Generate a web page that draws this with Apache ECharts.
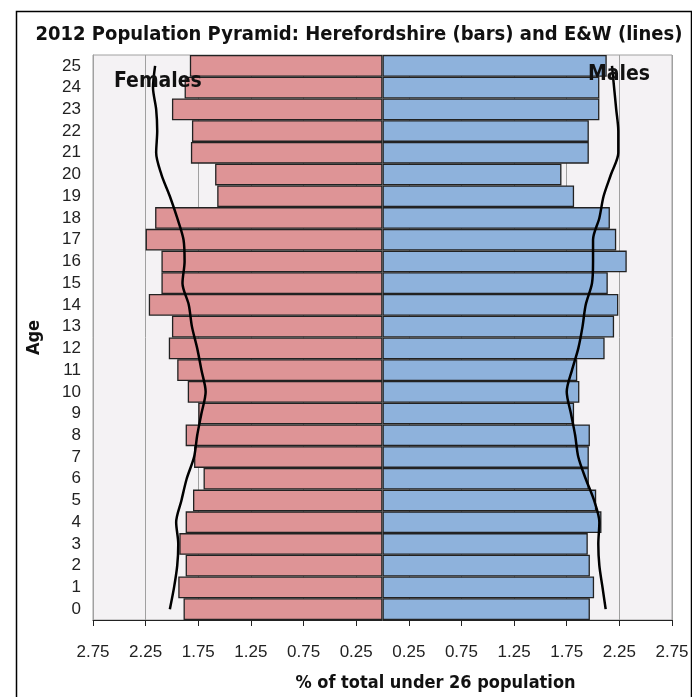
<!DOCTYPE html>
<html><head><meta charset="utf-8">
<script src="https://cdn.jsdelivr.net/npm/echarts@6/dist/echarts.min.js"></script>
<style>html,body{margin:0;padding:0;background:#fff}#c{width:692px;height:697px}</style>
</head><body><div id="c"></div>
<script>
const ages = ['0','1','2','3','4','5','6','7','8','9','10','11','12','13','14','15','16','17','18','19','20','21','22','23','24','25'];
// Herefordshire bars (% of total under 26 population)
const femalesHfd = [1.89,1.94,1.87,1.93,1.87,1.80,1.70,1.79,1.87,1.75,1.85,1.95,2.03,2.00,2.22,2.10,2.10,2.25,2.16,1.57,1.59,1.82,1.81,2.00,1.88,1.83];
const malesHfd   = [1.97,2.01,1.97,1.95,2.08,2.03,1.96,1.96,1.97,1.82,1.87,1.85,2.11,2.20,2.24,2.14,2.32,2.22,2.16,1.82,1.70,1.96,1.96,2.06,2.06,2.13];
// England & Wales lines
const femalesEW = [2.02,1.98,1.95,1.94,1.96,1.91,1.86,1.79,1.76,1.72,1.68,1.72,1.76,1.81,1.84,1.90,1.88,1.89,1.95,2.02,2.10,2.15,2.14,2.15,2.18,2.16];
const malesEW   = [2.12,2.09,2.06,2.05,2.06,2.01,1.93,1.86,1.83,1.79,1.75,1.80,1.86,1.90,1.93,1.99,2.00,2.00,2.06,2.10,2.17,2.24,2.24,2.22,2.20,2.18];

const chart = echarts.init(document.getElementById('c'), null, {renderer:'canvas'});
const FONT = "'Liberation Sans', Arial, sans-serif";
const NARROW = "'Liberation Sans Narrow', 'DejaVu Sans Condensed', Arial, sans-serif";
chart.setOption({
  animation:false,
  backgroundColor:'#fff',
  title:{text:'2012 Population Pyramid: Herefordshire (bars) and E&W (lines)', left:354, textAlign:'center', top:20,
    textStyle:{fontFamily:NARROW, fontWeight:'bold', fontSize:20, color:'#111'}},
  grid:{left:93, right:20, top:55, bottom:74, show:true, backgroundColor:'#f4f2f4', borderColor:'#a0a0a0', borderWidth:1},
  xAxis:{type:'value', min:-2.75, max:2.75, interval:0.5,
    name:'% of total under 26 population', nameLocation:'middle', nameGap:54,
    nameTextStyle:{fontFamily:NARROW, fontWeight:'bold', fontSize:18, color:'#111', padding:[0,0,0,106]},
    axisLine:{show:true, onZero:false, lineStyle:{color:'#222', width:1}},
    axisTick:{show:true, length:6, lineStyle:{color:'#222'}},
    axisLabel:{margin:24, fontFamily:FONT, fontSize:17, color:'#222', formatter:v=>Math.abs(v).toFixed(2)},
    splitLine:{show:true, lineStyle:{color:'#a0a0a0', width:1}}},
  yAxis:{type:'category', data:ages, name:'Age', nameLocation:'middle', nameGap:50, nameRotate:90,
    nameTextStyle:{fontFamily:NARROW, fontWeight:'bold', fontSize:18, color:'#111'},
    axisLine:{show:true, onZero:false, lineStyle:{color:'#a0a0a0'}},
    axisTick:{show:false},
    axisLabel:{interval:0, hideOverlap:false, margin:12, fontFamily:FONT, fontSize:17, color:'#222'}},
  series:[
    {name:'Females', type:'bar', data:femalesHfd.map(v=>-v), barGap:'-100%', barCategoryGap:'0%',
      itemStyle:{color:'#de9496', borderColor:'#222', borderWidth:1.3}},
    {name:'Males', type:'bar', data:malesHfd, barGap:'-100%', barCategoryGap:'0%',
      itemStyle:{color:'#8eb2dc', borderColor:'#222', borderWidth:1.3}},
    {name:'Females E&W', type:'line', data:femalesEW.map(v=>-v), smooth:0.3, symbol:'none',
      lineStyle:{color:'#000', width:2.5}, z:5},
    {name:'Males E&W', type:'line', data:malesEW, smooth:0.3, symbol:'none',
      lineStyle:{color:'#000', width:2.5}, z:5}
  ],
  graphic:[
    {type:'rect', left:14, top:9, shape:{width:675, height:700}, style:{fill:null, stroke:'#000', lineWidth:1.5}, silent:true, z:0},
    {type:'text', left:114, top:71, style:{text:'Females', font:"bold 21px "+NARROW, fill:'#111'}, z:10},
    {type:'text', left:588, top:64, style:{text:'Males', font:"bold 21px "+NARROW, fill:'#111'}, z:10}
  ]
});
</script></body></html>
